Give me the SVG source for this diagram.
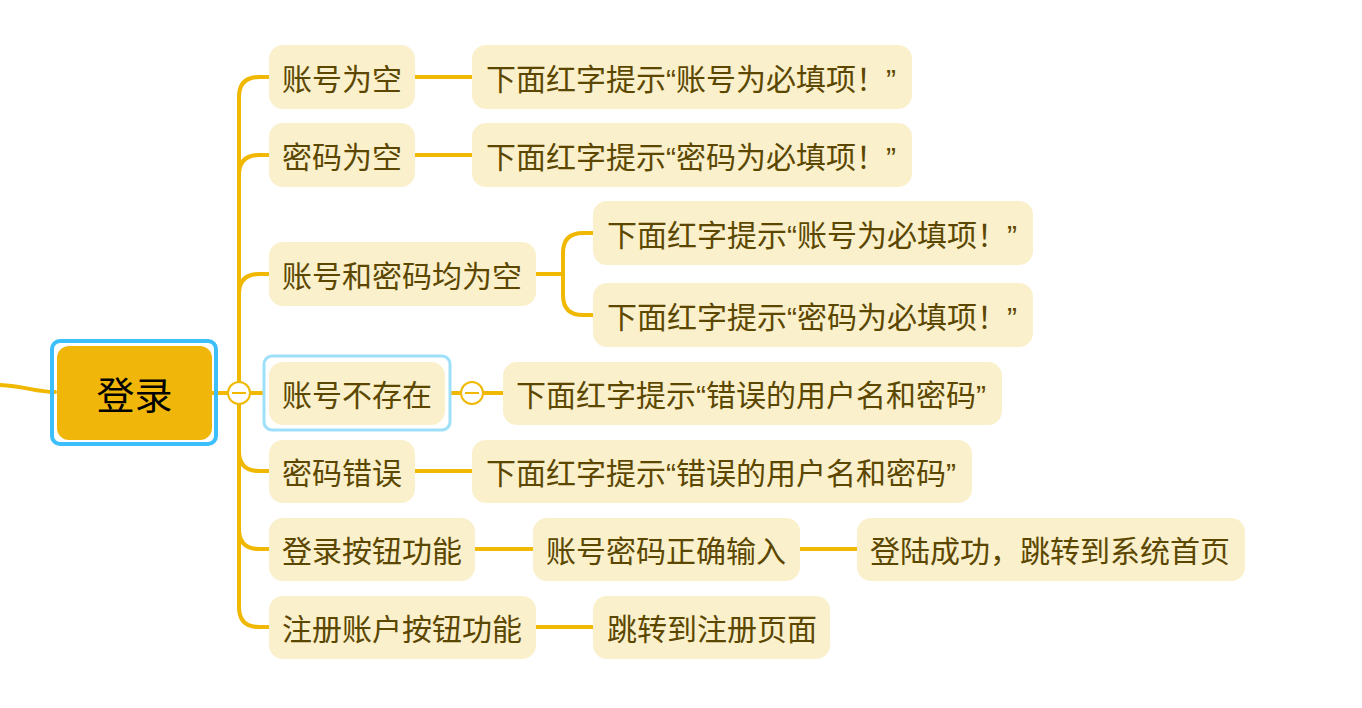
<svg xmlns="http://www.w3.org/2000/svg" width="1362" height="708" viewBox="0 0 1362 708">
<style>
.ln{fill:none;stroke:#f0b800;stroke-width:4;stroke-linecap:round}
.bx{fill:#faf0cc}
.t{font-family:"Liberation Sans","Noto Sans CJK SC",sans-serif;font-size:30px;fill:#5c4700}
.rt{font-family:"Liberation Sans","Noto Sans CJK SC",sans-serif;font-size:38px;fill:#000}
.cc{fill:#fff;stroke:#f0b800;stroke-width:2}
.cm{stroke:#f0b800;stroke-width:2}
</style>
<g id="connectors">
<path class="ln" d="M0,385 C25,386 35,392 55,392"/>
<path class="ln" d="M212,393 H269"/>
<path class="ln" d="M239,97 V607"/>
<path class="ln" d="M239,97 Q239,77 259,77 H269"/>
<path class="ln" d="M239,175 Q239,155 259,155 H269"/>
<path class="ln" d="M239,294 Q239,274 259,274 H269"/>
<path class="ln" d="M239,451 Q239,471 259,471 H269"/>
<path class="ln" d="M239,529 Q239,549 259,549 H269"/>
<path class="ln" d="M239,607 Q239,627 259,627 H269"/>
<path class="ln" d="M415,77 H472"/>
<path class="ln" d="M415,155 H472"/>
<path class="ln" d="M536,274 H563"/>
<path class="ln" d="M563,274 V253 Q563,233 583,233 H593"/>
<path class="ln" d="M563,274 V295 Q563,315 583,315 H593"/>
<path class="ln" d="M445,393 H503"/>
<path class="ln" d="M415,471 H472"/>
<path class="ln" d="M475,549 H533"/>
<path class="ln" d="M800,549 H857"/>
<path class="ln" d="M536,627 H593"/>
<circle class="cc" cx="239" cy="393" r="11"/>
<line class="cm" x1="232" y1="393" x2="246" y2="393"/>
<circle class="cc" cx="472" cy="393" r="11"/>
<line class="cm" x1="465" y1="393" x2="479" y2="393"/>
</g>
<g id="root">
<rect x="52" y="341" width="164" height="103" rx="8" fill="none" stroke="#3cbffa" stroke-width="4"/>
<rect x="57" y="346" width="155" height="94" rx="12" fill="#f0b70a"/>
<text class="rt" x="134.5" y="409" text-anchor="middle">登录</text>
</g>
<g id="n1"><rect class="bx" x="269" y="45" width="146" height="64" rx="14"/><text class="t" x="282" y="90">账号为空</text></g>
<g id="n1a"><rect class="bx" x="472" y="45" width="440" height="64" rx="14"/><text class="t" x="486" y="90">下面红字提示“账号为必填项！”</text></g>
<g id="n2"><rect class="bx" x="269" y="123" width="146" height="64" rx="14"/><text class="t" x="282" y="168">密码为空</text></g>
<g id="n2a"><rect class="bx" x="472" y="123" width="440" height="64" rx="14"/><text class="t" x="486" y="168">下面红字提示“密码为必填项！”</text></g>
<g id="n3"><rect class="bx" x="269" y="242" width="267" height="64" rx="14"/><text class="t" x="282" y="287">账号和密码均为空</text></g>
<g id="n3a"><rect class="bx" x="593" y="201" width="440" height="64" rx="14"/><text class="t" x="607" y="246">下面红字提示“账号为必填项！”</text></g>
<g id="n3b"><rect class="bx" x="593" y="283" width="440" height="64" rx="14"/><text class="t" x="607" y="328">下面红字提示“密码为必填项！”</text></g>
<g id="n4"><rect x="264" y="356" width="186" height="74" rx="8" fill="#fff" stroke="#9edffa" stroke-width="3"/><rect class="bx" x="269" y="362" width="176" height="63" rx="14"/><text class="t" x="282" y="406">账号不存在</text></g>
<g id="n4a"><rect class="bx" x="503" y="362" width="499" height="63" rx="14"/><text class="t" x="516" y="406">下面红字提示“错误的用户名和密码”</text></g>
<g id="n5"><rect class="bx" x="269" y="440" width="146" height="63" rx="14"/><text class="t" x="282" y="484">密码错误</text></g>
<g id="n5a"><rect class="bx" x="472" y="440" width="500" height="63" rx="14"/><text class="t" x="486" y="484">下面红字提示“错误的用户名和密码”</text></g>
<g id="n6"><rect class="bx" x="269" y="518" width="206" height="63" rx="14"/><text class="t" x="282" y="562">登录按钮功能</text></g>
<g id="n6a"><rect class="bx" x="533" y="518" width="267" height="63" rx="14"/><text class="t" x="546" y="562">账号密码正确输入</text></g>
<g id="n6b"><rect class="bx" x="857" y="518" width="388" height="63" rx="14"/><text class="t" x="870" y="562">登陆成功，跳转到系统首页</text></g>
<g id="n7"><rect class="bx" x="269" y="596" width="267" height="63" rx="14"/><text class="t" x="282" y="640">注册账户按钮功能</text></g>
<g id="n7a"><rect class="bx" x="593" y="596" width="237" height="63" rx="14"/><text class="t" x="607" y="640">跳转到注册页面</text></g>
</svg>
